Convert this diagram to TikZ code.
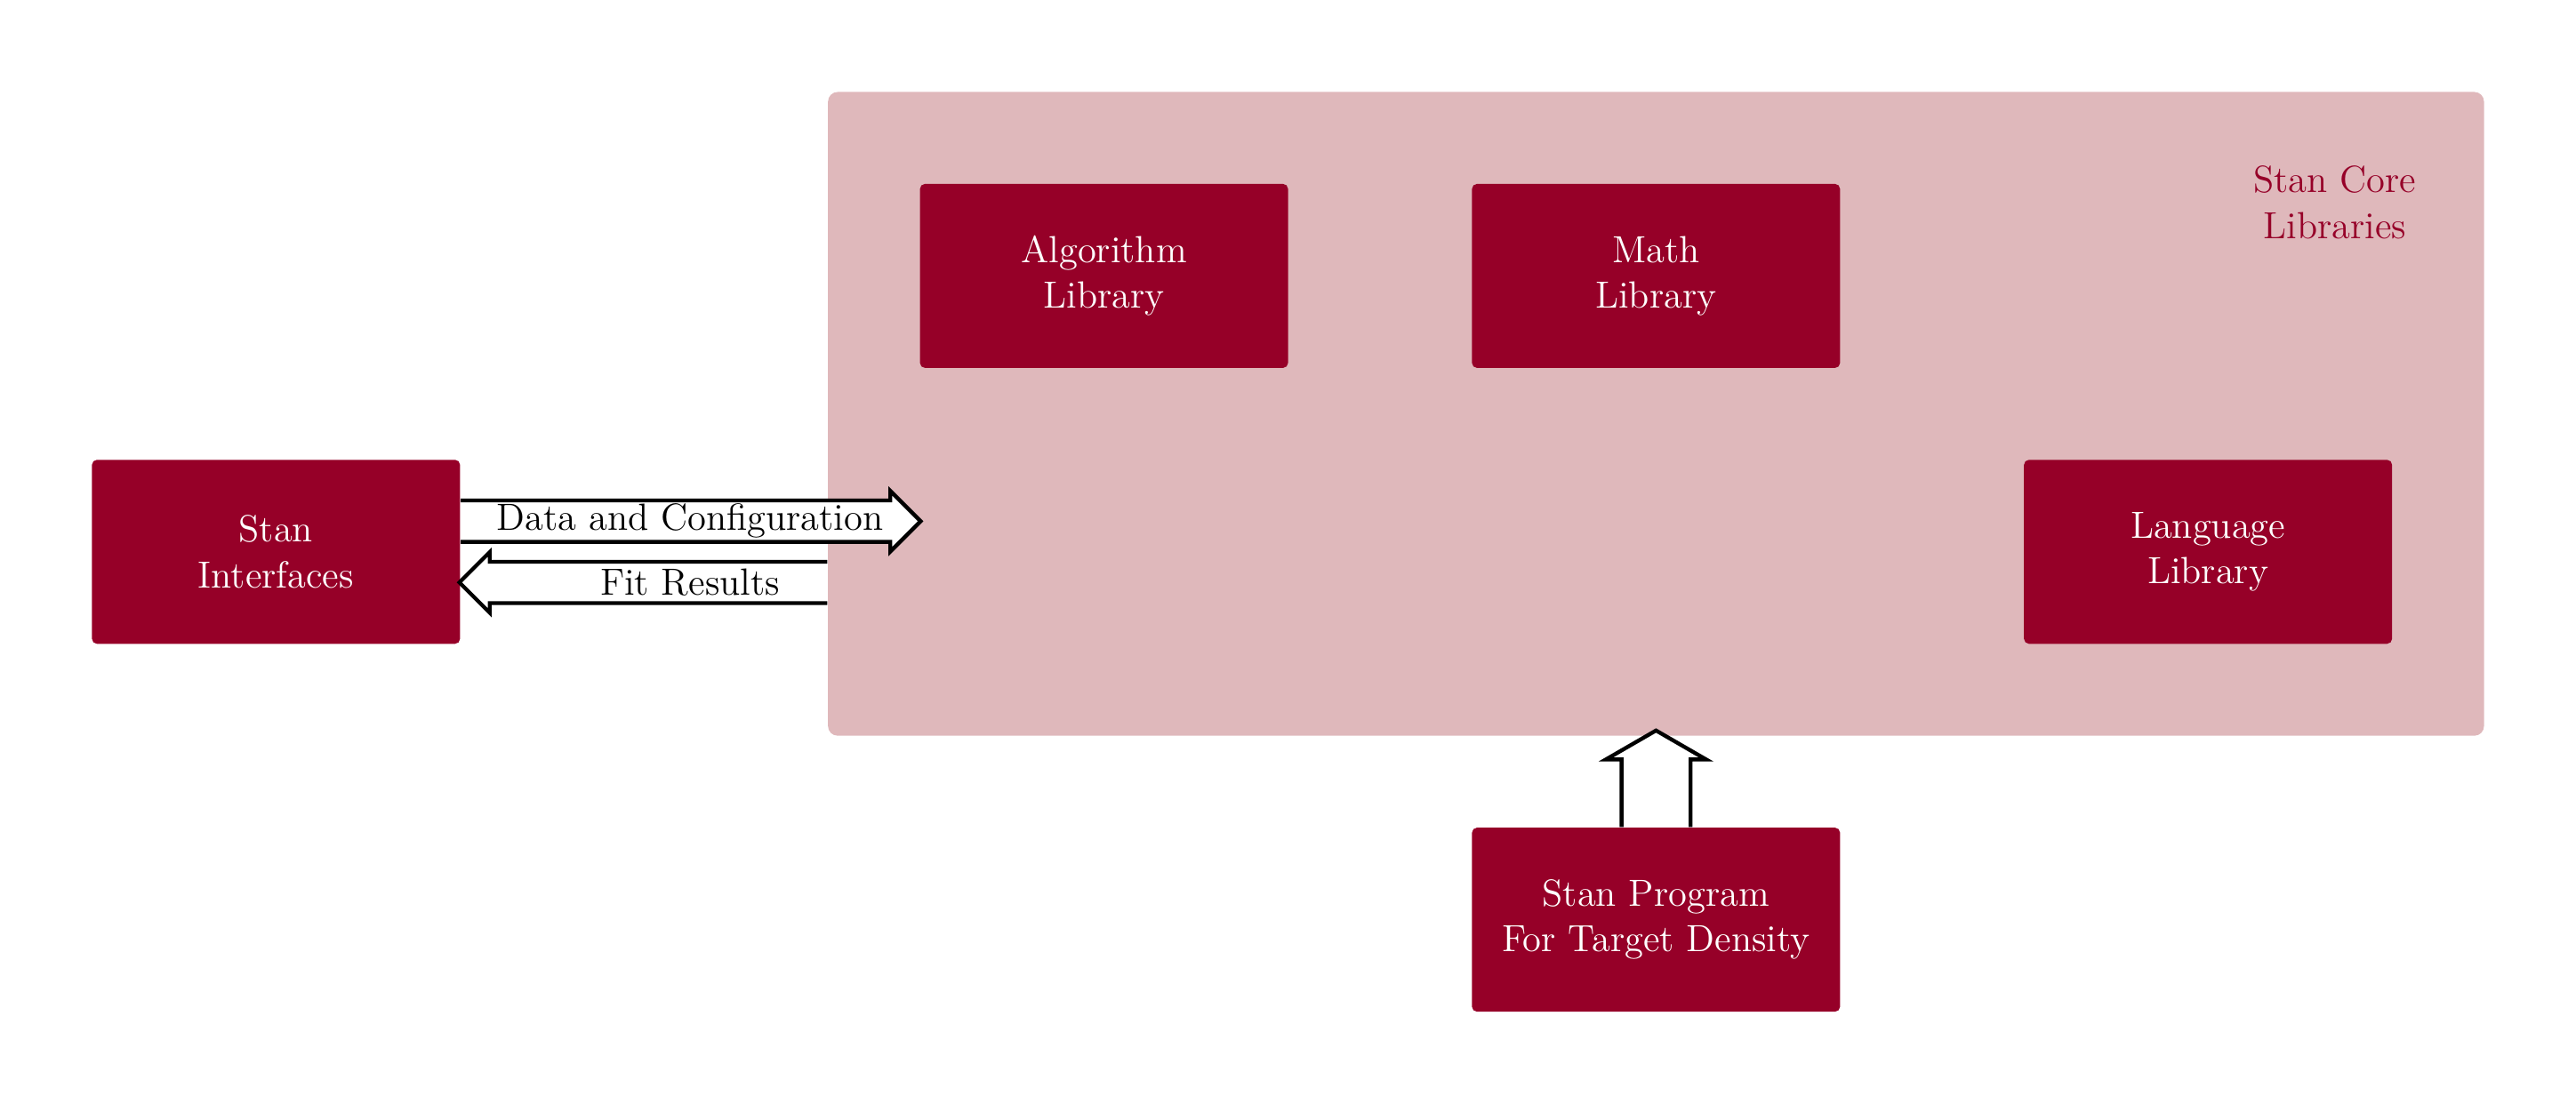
\documentclass[tikz,border=0pt,12pt]{standalone}
\usepackage{fix-cm}
\usepackage{amssymb}
\usepackage{amsmath}
\usepackage{tikz}
\usetikzlibrary{arrows.meta}
\usetikzlibrary{positioning}
\usetikzlibrary{calc}

\definecolor{stanred}{RGB}{150,0,40}
\definecolor{stanpink}{RGB}{223,184,187}

\tikzset{
	libbox/.style={rectangle, rounded corners=1.5pt, fill=stanred, text=white,
		minimum width=4cm, minimum height=2cm, align=center},
	corebox/.style={rectangle, rounded corners=3pt, fill=stanpink,
		minimum width=18cm, minimum height=7cm},
	flowline/.style={draw=black, very thick, fill=white},
}

\begin{document}
\begin{tikzpicture}[node distance=6cm,on grid,font=\fontsize{11.7}{14.1}\selectfont]
	\useasboundingbox (0,0) rectangle (28,12);

	\node[corebox] (core) at (18,7.5) {};
	\node[text=stanred, align=center] (corelbl) at (25.38,9.8) {Stan Core\\Libraries};

	\node[libbox] (iface) at (3,6) {Stan\\Interfaces};
	\node[libbox] (alg) at (12,9) {Algorithm\\Library};
	\node[libbox] (math) [right=of alg] {Math\\Library};
	\node[libbox] (lang) [below right=3cm and 6cm of math] {Language\\Library};
	\node[libbox] (prog) [below=7cm of math] {Stan Program\\For Target Density};

	% data in, results out (open at the tail)
	\filldraw[flowline] ($(iface.east)+(0,0.558)$) -- ++(4.67,0) -- ++(0,0.105)
		-- ++(0.33,-0.33) -- ++(-0.33,-0.33) -- ++(0,0.105) -- ++(-4.67,0);
	\coordinate (fitstart) at ($(core.west |- iface.east)+(0,-0.333)$);
	\filldraw[flowline] ($(fitstart)+(0,0.225)$) -- ++(-3.67,0) -- ++(0,0.105)
		-- ++(-0.33,-0.33) -- ++(0.33,-0.33) -- ++(0,0.105) -- ++(3.67,0);
	\node (datalbl) at (7.5,6.333) {Data and Configuration};
	\node (fitlbl) at (7.5,5.667) {Fit Results};

	% program feeds the core
	\filldraw[flowline] ($(prog.north)+(-0.375,0)$) -- ++(0,0.735) -- ++(-0.17,0)
		-- ++(0.545,0.315) -- ++(0.545,-0.315) -- ++(-0.17,0) -- ++(0,-0.735);

\end{tikzpicture}
\end{document}
